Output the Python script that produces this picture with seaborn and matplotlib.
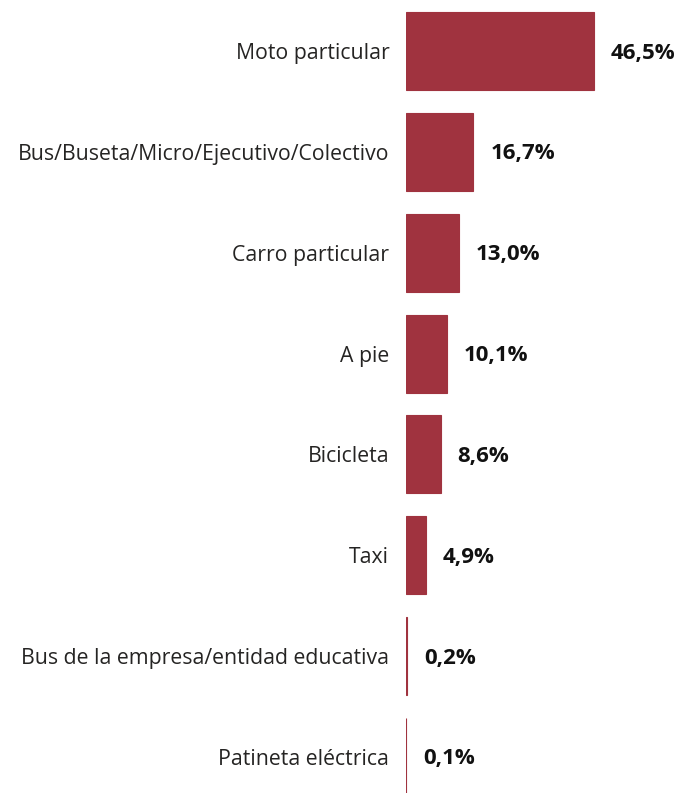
import matplotlib
matplotlib.use("Agg")
import matplotlib.pyplot as plt
import seaborn as sns
import pandas as pd

categorias = ["Moto particular", "Bus/Buseta/Micro/Ejecutivo/Colectivo",
              "Carro particular", "A pie", "Bicicleta", "Taxi",
              "Bus de la empresa/entidad educativa", "Patineta eléctrica"]
porcentajes = [46.5, 16.7, 13.0, 10.1, 8.6, 4.9, 0.2, 0.1]

df = pd.DataFrame({"medio": categorias, "pct": porcentajes})

sns.set_style("white")
plt.rcParams['font.family'] = ['Open Sans', 'DejaVu Sans']

fig = plt.figure(figsize=(6.86, 7.93), dpi=100)
ax = fig.add_axes([406 / 686, 0, 280 / 686, 1])

color = "#A0333F"
sns.barplot(data=df, x="pct", y="medio", orient="h", color=color,
            width=0.773, saturation=1, ax=ax, edgecolor=color, linewidth=0.8)

ax.set_xlim(0, 280 / 4.04)
ax.set_ylim(7.357, -0.506)
ax.set_xlabel("")
ax.set_ylabel("")
ax.set_xticks([])
ax.tick_params(axis="y", length=0, pad=12, labelsize=15.3, labelcolor="#252423")
sns.despine(ax=ax, left=True, bottom=True)

for i, v in enumerate(porcentajes):
    ax.annotate(f"{v:.1f}%".replace(".", ","), xy=(v, i), xytext=(17, -2),
                textcoords="offset pixels", va="center", ha="left",
                fontsize=16, fontweight="bold", color="#111111")

fig.savefig("out.png", dpi=100)
